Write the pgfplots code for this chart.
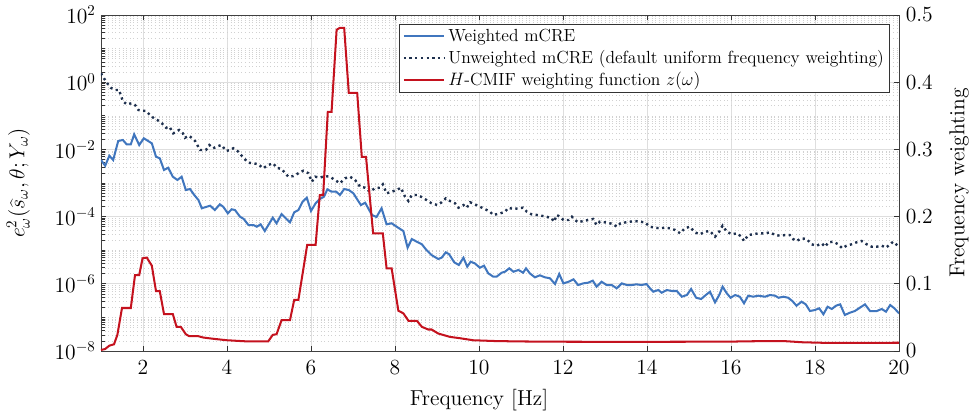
\documentclass[border=0pt]{standalone}
\usepackage{pgfplots}
\pgfplotsset{compat=1.18}
\definecolor{wblue}{RGB}{64,118,190}
\definecolor{unav}{RGB}{30,48,78}
\definecolor{hred}{RGB}{196,18,30}
\begin{document}
\begin{tikzpicture}
\path[use as bounding box] (-67.33pt,-42.67pt) rectangle (580.67pt,234pt);
\begin{axis}[
  scale only axis, width=532pt, height=224pt,
  xmin=1, xmax=20, ymode=log, ymin=1e-8, ymax=1e2,
  xtick={2,4,...,20},
  ytick={1e-8,1e-6,1e-4,1e-2,1,1e2},
  minor ytick={2e-8,3e-8,4e-8,5e-8,6e-8,7e-8,8e-8,9e-8,1e-7,2e-7,3e-7,4e-7,5e-7,6e-7,7e-7,8e-7,9e-7,
    2e-6,3e-6,4e-6,5e-6,6e-6,7e-6,8e-6,9e-6,1e-5,2e-5,3e-5,4e-5,5e-5,6e-5,7e-5,8e-5,9e-5,
    2e-4,3e-4,4e-4,5e-4,6e-4,7e-4,8e-4,9e-4,1e-3,2e-3,3e-3,4e-3,5e-3,6e-3,7e-3,8e-3,9e-3,
    2e-2,3e-2,4e-2,5e-2,6e-2,7e-2,8e-2,9e-2,1e-1,2e-1,3e-1,4e-1,5e-1,6e-1,7e-1,8e-1,9e-1,
    2,3,4,5,6,7,8,9,10,20,30,40,50,60,70,80,90},
  ytick pos=left,
  xmajorgrids, ymajorgrids, yminorgrids,
  major grid style={color=black!13, line width=0.5pt},
  minor grid style={color=black!18, dotted, line width=0.35pt},
  axis line style={color=black!75, line width=0.5pt},
  tick style={color=black!80, line width=0.5pt},
  major tick length=3.5pt, minor tick length=3pt,
  tick label style={font=\Large},
  xticklabel style={yshift=-3pt},
  label style={font=\Large},
  xlabel={Frequency [Hz]},
  ylabel={$e^2_\omega(\widehat{s}_\omega,\theta;Y_\omega)$},
  ylabel style={at={(rel axis cs:0,0.5)}, anchor=south, yshift=44pt},
  xlabel style={at={(rel axis cs:0.4737,0)}, anchor=north, yshift=-22pt},
]
\addplot[wblue, line width=1.35pt] coordinates {
(1.0,4.84e-3)(1.10,3.27e-3)(1.20,6.49e-3)(1.29,4.84e-3)(1.41,1.78e-2)(1.52,1.91e-2)(1.61,1.42e-2)(1.71,1.42e-2)
(1.79,2.81e-2)(1.91,1.35e-2)(2.02,2.14e-2)(2.21,1.52e-2)(2.31,6.07e-3)(2.40,5.43e-3)(2.50,2.44e-3)(2.60,2.85e-3)
(2.71,1.54e-3)(2.82,1.23e-3)(2.92,1.54e-3)(3.02,6.19e-4)(3.12,6.62e-4)(3.22,4.40e-4)(3.32,3.12e-4)(3.40,1.77e-4)
(3.52,1.97e-4)(3.60,2.11e-4)(3.71,1.57e-4)(3.83,2.32e-4)(3.91,1.97e-4)(4.02,1.25e-4)(4.11,1.65e-4)(4.19,1.57e-4)
(4.31,9.93e-5)(4.40,8.49e-5)(4.51,5.62e-5)(4.63,5.62e-5)(4.71,5.0e-5)(4.80,5.90e-5)(4.90,3.72e-5)(5.01,6.32e-5)
(5.09,9.27e-5)(5.18,6.32e-5)(5.30,1.19e-4)(5.40,8.89e-5)(5.50,6.76e-5)(5.60,1.34e-4)(5.70,1.57e-4)(5.80,2.77e-4)
(5.90,3.66e-4)(6.00,1.47e-4)(6.11,2.49e-4)(6.21,3.34e-4)(6.31,3.91e-4)(6.39,6.49e-4)(6.49,5.51e-4)(6.60,5.51e-4)
(6.69,4.40e-4)(6.79,6.62e-4)(6.90,6.19e-4)(7.01,4.93e-4)(7.11,3.12e-4)(7.19,2.21e-4)(7.29,2.59e-4)(7.45,1.12e-4)
(7.56,9.73e-5)(7.68,1.77e-4)(7.80,5.90e-5)(7.92,6.32e-5)(8.04,5.0e-5)(8.20,3.72e-5)(8.30,1.19e-5)(8.40,2.15e-5)
(8.52,1.79e-5)(8.64,1.50e-5)(8.75,1.01e-5)(8.87,7.19e-6)(9.03,5.47e-6)(9.11,5.98e-6)(9.21,8.65e-6)(9.29,7.55e-6)
(9.41,4.37e-6)(9.52,3.63e-6)(9.63,5.98e-6)(9.72,3.23e-6)(9.80,4.55e-6)(9.90,4.07e-6)(10.02,3.01e-6)(10.12,3.46e-6)
(10.22,2.05e-6)(10.34,1.63e-6)(10.42,1.63e-6)(10.54,2.14e-6)(10.62,2.29e-6)(10.72,2.89e-6)(10.82,2.29e-6)(10.94,2.58e-6)
(11.05,2.14e-6)(11.12,2.89e-6)(11.21,2.05e-6)(11.33,1.56e-6)(11.45,1.79e-6)(11.57,1.56e-6)(11.69,1.46e-6)(11.81,9.86e-7)
(11.91,1.96e-6)(12.01,1.03e-6)(12.13,1.15e-6)(12.25,1.36e-6)(12.36,9.2e-7)(12.48,1.03e-6)(12.60,1.08e-6)(12.71,1.24e-6)
(12.80,8.2e-7)(12.92,1.15e-6)(13.04,9.2e-7)(13.16,9.2e-7)(13.28,7.35e-7)(13.40,1.03e-6)(13.52,9.2e-7)(13.64,9.2e-7)
(13.75,9.66e-7)(13.87,9.2e-7)(13.99,9.86e-7)(14.07,7.35e-7)(14.15,5.82e-7)(14.27,6.53e-7)(14.35,5.43e-7)(14.47,6.53e-7)
(14.59,6.11e-7)(14.71,6.11e-7)(14.83,4.13e-7)(14.95,4.64e-7)(15.05,7.0e-7)(15.17,3.85e-7)(15.29,3.53e-7)(15.40,4.64e-7)
(15.50,5.82e-7)(15.62,2.81e-7)(15.72,4.64e-7)(15.80,8.2e-7)(15.90,5.21e-7)(15.99,3.85e-7)(16.10,4.64e-7)(16.21,4.13e-7)
(16.31,2.63e-7)(16.41,4.43e-7)(16.53,4.13e-7)(16.65,4.43e-7)(16.81,4.13e-7)(16.93,4.64e-7)(17.05,4.43e-7)(17.13,3.85e-7)
(17.25,4.13e-7)(17.36,3.85e-7)(17.46,3.08e-7)(17.56,2.23e-7)(17.68,2.93e-7)(17.78,2.45e-7)(17.88,1.55e-7)(18.00,1.66e-7)
(18.10,1.87e-7)(18.20,1.24e-7)(18.30,2.08e-7)(18.40,1.78e-7)(18.50,2.23e-7)(18.60,2.45e-7)(18.71,1.18e-7)(18.83,1.38e-7)
(18.95,1.55e-7)(19.07,1.95e-7)(19.19,2.45e-7)(19.31,1.55e-7)(19.47,1.55e-7)(19.59,1.78e-7)(19.69,1.48e-7)(19.79,2.34e-7)
(19.89,1.87e-7)(20.0,1.32e-7)
};
\addplot[unav, line width=1.6pt, dash pattern=on 1.5pt off 2.3pt] coordinates {
(1.0,1.84)(1.07,1.31)(1.15,0.93)(1.23,0.686)(1.33,0.586)(1.43,0.586)(1.47,0.416)(1.52,0.275)(1.61,0.22)(1.73,0.236)
(1.81,0.21)(1.89,0.149)(1.99,0.142)(2.07,0.14)(2.15,0.111)(2.26,0.0843)(2.34,0.075)(2.45,0.0598)(2.55,0.0443)(2.63,0.0474)
(2.72,0.0301)(2.86,0.0378)(2.95,0.0301)(3.00,0.0223)(3.10,0.0256)(3.24,0.0178)(3.36,9.6e-3)(3.50,9.6e-3)(3.58,0.0135)(3.67,0.0108)
(3.79,0.0126)(3.87,0.0135)(3.98,8.96e-3)(4.07,9.6e-3)(4.15,0.0108)(4.27,8.55e-3)(4.39,5.66e-3)(4.51,4.02e-3)(4.63,3.86e-3)(4.75,3.6e-3)
(4.86,2.74e-3)(4.98,3.43e-3)(5.10,3.86e-3)(5.18,2.85e-3)(5.30,2.61e-3)(5.46,1.54e-3)(5.58,1.61e-3)(5.70,1.95e-3)(5.82,2.32e-3)(5.94,1.95e-3)
(6.02,1.09e-3)(6.10,1.54e-3)(6.21,1.44e-3)(6.33,1.61e-3)(6.45,1.54e-3)(6.57,1.23e-3)(6.69,9.8e-4)(6.81,1.38e-3)(6.93,1.54e-3)(7.05,1.23e-3)
(7.17,7.76e-4)(7.29,7.24e-4)(7.40,5.51e-4)(7.52,6.95e-4)(7.64,7.24e-4)(7.71,9.14e-4)(7.80,4.93e-4)(7.92,5.51e-4)(8.04,6.19e-4)(8.14,7.24e-4)
(8.24,3.91e-4)(8.32,2.91e-4)(8.40,4.40e-4)(8.52,4.40e-4)(8.62,3.91e-4)(8.75,3.12e-4)(8.87,2.49e-4)(9.01,2.21e-4)(9.11,2.67e-4)(9.21,3.5e-4)
(9.31,2.91e-4)(9.43,2.49e-4)(9.51,1.84e-4)(9.63,2.21e-4)(9.71,1.84e-4)(9.79,2.67e-4)(9.90,2.32e-4)(10.02,1.97e-4)(10.14,1.68e-4)(10.26,1.40e-4)
(10.34,1.12e-4)(10.50,1.24e-4)(10.62,1.40e-4)(10.70,1.84e-4)(10.82,1.68e-4)(10.94,1.77e-4)(11.05,1.84e-4)(11.14,1.40e-4)(11.25,1.17e-4)(11.37,1.12e-4)
(11.49,1.06e-4)(11.61,9.93e-5)(11.73,8.89e-5)(11.79,7.05e-5)(11.85,1.12e-4)(11.93,9.93e-5)(12.01,7.92e-5)(12.13,7.92e-5)(12.21,9.93e-5)(12.29,7.92e-5)
(12.36,6.76e-5)(12.48,7.4e-5)(12.60,7.92e-5)(12.72,8.49e-5)(12.80,5.62e-5)(12.88,7.05e-5)(13.00,6.76e-5)(13.12,6.32e-5)(13.20,5.9e-5)(13.28,5.0e-5)
(13.37,6.32e-5)(13.48,6.7e-5)(13.60,7.05e-5)(13.71,7.4e-5)(13.83,7.05e-5)(13.95,6.76e-5)(14.07,5.0e-5)(14.19,4.68e-5)(14.31,4.49e-5)(14.43,4.68e-5)
(14.55,4.49e-5)(14.67,3.99e-5)(14.79,3.18e-5)(14.90,4.49e-5)(15.02,5.0e-5)(15.14,3.41e-5)(15.26,2.97e-5)(15.38,3.56e-5)(15.50,3.72e-5)(15.62,2.52e-5)
(15.72,3.56e-5)(15.80,5.36e-5)(15.90,3.56e-5)(16.02,2.97e-5)(16.14,3.18e-5)(16.25,2.52e-5)(16.31,1.88e-5)(16.41,2.83e-5)(16.53,2.97e-5)(16.65,3.18e-5)
(16.81,3.18e-5)(16.93,3.41e-5)(17.05,2.83e-5)(17.17,2.7e-5)(17.29,2.83e-5)(17.40,2.83e-5)(17.48,2.15e-5)(17.56,1.88e-5)(17.68,2.26e-5)(17.80,2.15e-5)
(17.92,1.5e-5)(18.04,1.36e-5)(18.16,1.6e-5)(18.24,1.27e-5)(18.32,1.72e-5)(18.44,1.79e-5)(18.55,1.5e-5)(18.65,1.14e-5)(18.75,1.36e-5)(18.87,1.5e-5)
(18.99,1.72e-5)(19.11,1.88e-5)(19.23,1.5e-5)(19.35,1.27e-5)(19.47,1.27e-5)(19.59,1.36e-5)(19.69,1.19e-5)(19.79,1.5e-5)(19.86,1.79e-5)(20.0,1.27e-5)
};
\end{axis}
\begin{axis}[
  scale only axis, width=532pt, height=224pt,
  xmin=1, xmax=20, ymin=0, ymax=0.5,
  axis x line=none, axis y line*=right,
  ytick={0,0.1,0.2,0.3,0.4,0.5},
  axis line style={color=black!75, line width=0.5pt},
  tick style={color=black!80, line width=0.5pt},
  major tick length=3.5pt,
  tick label style={font=\Large},
  yticklabel style={xshift=1pt},
  label style={font=\Large},
  ylabel={Frequency weighting},
  ylabel style={at={(rel axis cs:1,0.5)}, anchor=north, yshift=-30pt},
  legend style={at={(rel axis cs:0.989,0.973)}, anchor=north east, draw=black!80, fill=white,
    line width=0.5pt, row sep=0.5pt, inner xsep=2pt, inner ysep=1pt,
    font=\fontsize{11.7pt}{14pt}\selectfont},
  legend cell align=left,
  legend image code/.code={\draw[#1] (0pt,0pt) -- (27pt,0pt);},
]
\addlegendimage{wblue, line width=1.35pt}
\addlegendentry{Weighted mCRE}
\addlegendimage{unav, line width=1.6pt, dash pattern=on 1.5pt off 2.3pt}
\addlegendentry{Unweighted mCRE (default uniform frequency weighting)}
\addplot[hred, line width=1.35pt] coordinates {
(1.0,0.0015)(1.1,0.003)(1.2,0.008)(1.31,0.010)(1.39,0.024)(1.50,0.064)(1.71,0.064)(1.81,0.113)(1.91,0.113)
(1.99,0.138)(2.09,0.139)(2.21,0.127)(2.31,0.089)(2.40,0.089)(2.50,0.055)(2.71,0.055)(2.80,0.036)(2.90,0.036)
(3.02,0.025)(3.10,0.022)(3.32,0.022)(3.44,0.020)(3.7,0.018)(4.0,0.016)(4.5,0.0142)(4.98,0.0142)(5.09,0.024)
(5.18,0.025)(5.30,0.046)(5.50,0.046)(5.60,0.076)(5.70,0.076)(5.91,0.158)(6.11,0.158)(6.21,0.232)(6.29,0.232)
(6.40,0.356)(6.49,0.356)(6.61,0.478)(6.69,0.481)(6.79,0.481)(6.90,0.384)(7.10,0.384)(7.21,0.289)(7.31,0.289)
(7.48,0.175)(7.71,0.175)(7.80,0.123)(7.92,0.123)(8.08,0.060)(8.20,0.056)(8.32,0.045)(8.52,0.045)(8.64,0.036)
(8.79,0.032)(8.87,0.032)(9.03,0.026)(9.31,0.021)(9.55,0.019)(9.86,0.016)(10.4,0.0148)(11,0.0142)(12,0.0138)
(13,0.0137)(14,0.0137)(15,0.0138)(16,0.014)(16.5,0.0145)(17,0.0148)(17.3,0.0146)(17.7,0.013)(18.2,0.0122)
(19,0.0121)(20,0.0123)
};
\addlegendentry{$H$-CMIF weighting function $z(\omega)$}
\end{axis}
\end{tikzpicture}
\end{document}
